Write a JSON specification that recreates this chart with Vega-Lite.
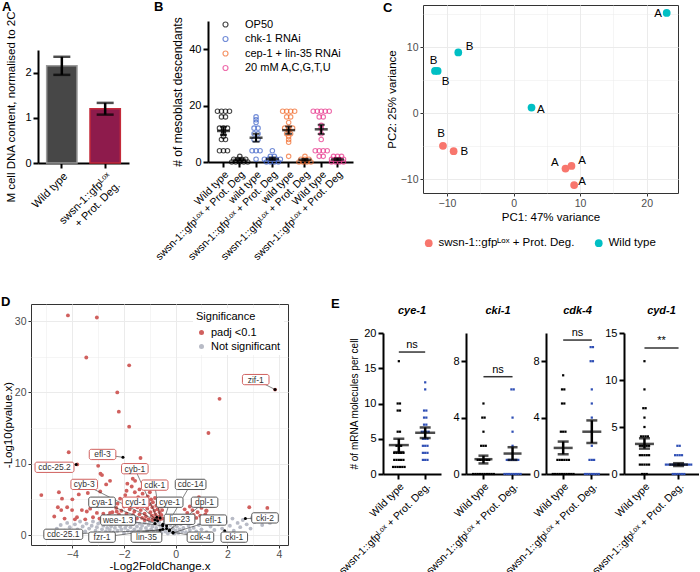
{
"$schema": "https://vega.github.io/schema/vega-lite/v6.json",
"padding": {"left": 0, "top": 0, "right": 0, "bottom": 0},
"config": {"font": "Liberation Sans", "view": {"stroke": null},
 "axis": {"labelFont": "Liberation Sans", "titleFont": "Liberation Sans", "titleFontWeight": "normal", "labelColor": "black", "titleColor": "black", "labelOverlap": false},
 "title": {"fontSize": 13, "fontWeight": "bold", "anchor": "start", "frame": "group", "font": "Liberation Sans"}},
"datasets": {
 "sp": [{}],
 "A": [{"k":"W","m":2.15,"lo":1.95,"hi":2.35},{"k":"S","m":1.2,"lo":1.07,"hi":1.33}],
 "B": [
  {"c":"1","g":"OP50","v":18},{"c":"1","g":"OP50","v":18},{"c":"1","g":"OP50","v":18},{"c":"1","g":"OP50","v":18},{"c":"1","g":"OP50","v":16},{"c":"1","g":"OP50","v":16},{"c":"1","g":"OP50","v":12},{"c":"1","g":"OP50","v":12},{"c":"1","g":"OP50","v":12},{"c":"1","g":"OP50","v":11},{"c":"1","g":"OP50","v":10},{"c":"1","g":"OP50","v":9},{"c":"1","g":"OP50","v":8},{"c":"1","g":"OP50","v":8},{"c":"1","g":"OP50","v":4},{"c":"1","g":"OP50","v":4},{"c":"1","g":"OP50","v":4},
  {"c":"2","g":"OP50","v":2},{"c":"2","g":"OP50","v":1},{"c":"2","g":"OP50","v":1},{"c":"2","g":"OP50","v":1},{"c":"2","g":"OP50","v":1},{"c":"2","g":"OP50","v":0},{"c":"2","g":"OP50","v":0},{"c":"2","g":"OP50","v":0},{"c":"2","g":"OP50","v":0},{"c":"2","g":"OP50","v":0},
  {"c":"3","g":"chk-1 RNAi","v":16},{"c":"3","g":"chk-1 RNAi","v":15},{"c":"3","g":"chk-1 RNAi","v":14},{"c":"3","g":"chk-1 RNAi","v":12},{"c":"3","g":"chk-1 RNAi","v":12},{"c":"3","g":"chk-1 RNAi","v":10},{"c":"3","g":"chk-1 RNAi","v":10},{"c":"3","g":"chk-1 RNAi","v":8},{"c":"3","g":"chk-1 RNAi","v":8},{"c":"3","g":"chk-1 RNAi","v":4},{"c":"3","g":"chk-1 RNAi","v":4},{"c":"3","g":"chk-1 RNAi","v":4},{"c":"3","g":"chk-1 RNAi","v":1},
  {"c":"4","g":"chk-1 RNAi","v":4},{"c":"4","g":"chk-1 RNAi","v":2},{"c":"4","g":"chk-1 RNAi","v":2},{"c":"4","g":"chk-1 RNAi","v":1},{"c":"4","g":"chk-1 RNAi","v":1},{"c":"4","g":"chk-1 RNAi","v":1},{"c":"4","g":"chk-1 RNAi","v":1},{"c":"4","g":"chk-1 RNAi","v":1},{"c":"4","g":"chk-1 RNAi","v":0},{"c":"4","g":"chk-1 RNAi","v":0},{"c":"4","g":"chk-1 RNAi","v":0},{"c":"4","g":"chk-1 RNAi","v":0},
  {"c":"5","g":"cep-1 + lin-35 RNAi","v":18},{"c":"5","g":"cep-1 + lin-35 RNAi","v":18},{"c":"5","g":"cep-1 + lin-35 RNAi","v":18},{"c":"5","g":"cep-1 + lin-35 RNAi","v":18},{"c":"5","g":"cep-1 + lin-35 RNAi","v":16},{"c":"5","g":"cep-1 + lin-35 RNAi","v":16},{"c":"5","g":"cep-1 + lin-35 RNAi","v":14},{"c":"5","g":"cep-1 + lin-35 RNAi","v":12},{"c":"5","g":"cep-1 + lin-35 RNAi","v":12},{"c":"5","g":"cep-1 + lin-35 RNAi","v":12},{"c":"5","g":"cep-1 + lin-35 RNAi","v":11},{"c":"5","g":"cep-1 + lin-35 RNAi","v":10},{"c":"5","g":"cep-1 + lin-35 RNAi","v":10},{"c":"5","g":"cep-1 + lin-35 RNAi","v":9},{"c":"5","g":"cep-1 + lin-35 RNAi","v":8},{"c":"5","g":"cep-1 + lin-35 RNAi","v":7},{"c":"5","g":"cep-1 + lin-35 RNAi","v":2},
  {"c":"6","g":"cep-1 + lin-35 RNAi","v":2},{"c":"6","g":"cep-1 + lin-35 RNAi","v":1},{"c":"6","g":"cep-1 + lin-35 RNAi","v":1},{"c":"6","g":"cep-1 + lin-35 RNAi","v":1},{"c":"6","g":"cep-1 + lin-35 RNAi","v":0},{"c":"6","g":"cep-1 + lin-35 RNAi","v":0},{"c":"6","g":"cep-1 + lin-35 RNAi","v":0},{"c":"6","g":"cep-1 + lin-35 RNAi","v":0},
  {"c":"7","g":"20 mM A,C,G,T,U","v":18},{"c":"7","g":"20 mM A,C,G,T,U","v":18},{"c":"7","g":"20 mM A,C,G,T,U","v":18},{"c":"7","g":"20 mM A,C,G,T,U","v":18},{"c":"7","g":"20 mM A,C,G,T,U","v":18},{"c":"7","g":"20 mM A,C,G,T,U","v":16},{"c":"7","g":"20 mM A,C,G,T,U","v":16},{"c":"7","g":"20 mM A,C,G,T,U","v":13},{"c":"7","g":"20 mM A,C,G,T,U","v":12},{"c":"7","g":"20 mM A,C,G,T,U","v":10},{"c":"7","g":"20 mM A,C,G,T,U","v":8},{"c":"7","g":"20 mM A,C,G,T,U","v":4},{"c":"7","g":"20 mM A,C,G,T,U","v":4},{"c":"7","g":"20 mM A,C,G,T,U","v":4},{"c":"7","g":"20 mM A,C,G,T,U","v":4},{"c":"7","g":"20 mM A,C,G,T,U","v":2},{"c":"7","g":"20 mM A,C,G,T,U","v":2},
  {"c":"8","g":"20 mM A,C,G,T,U","v":2},{"c":"8","g":"20 mM A,C,G,T,U","v":2},{"c":"8","g":"20 mM A,C,G,T,U","v":2},{"c":"8","g":"20 mM A,C,G,T,U","v":1},{"c":"8","g":"20 mM A,C,G,T,U","v":1},{"c":"8","g":"20 mM A,C,G,T,U","v":1},{"c":"8","g":"20 mM A,C,G,T,U","v":1},{"c":"8","g":"20 mM A,C,G,T,U","v":0},{"c":"8","g":"20 mM A,C,G,T,U","v":0},{"c":"8","g":"20 mM A,C,G,T,U","v":0},{"c":"8","g":"20 mM A,C,G,T,U","v":0}
 ],
 "Bs": [{"c":"1","m":11.0,"lo":9.6,"hi":12.5},{"c":"2","m":0.8,"lo":0.4,"hi":1.2},{"c":"3","m":8.6,"lo":7.2,"hi":10.0},{"c":"4","m":1.1,"lo":0.7,"hi":1.6},{"c":"5","m":11.3,"lo":10.0,"hi":12.6},{"c":"6","m":0.8,"lo":0.4,"hi":1.1},{"c":"7","m":11.6,"lo":9.9,"hi":13.2},{"c":"8","m":0.9,"lo":0.6,"hi":1.3}],
 "C": [
  {"x":23.0,"y":15.2,"t":"W","lx":21.7,"ly":15.0,"l":"A"},
  {"x":-8.3,"y":9.2,"t":"W","lx":-6.6,"ly":10.0,"l":"B"},
  {"x":-11.8,"y":6.4,"t":"W","lx":-12.0,"ly":7.9,"l":"B"},
  {"x":-11.4,"y":6.4,"t":"W","lx":-10.2,"ly":4.8,"l":"B"},
  {"x":2.7,"y":0.86,"t":"W","lx":4.1,"ly":0.45,"l":"A"},
  {"x":-10.6,"y":-4.95,"t":"S","lx":-10.9,"ly":-3.2,"l":"B"},
  {"x":-9.0,"y":-5.76,"t":"S","lx":-7.4,"ly":-5.9,"l":"B"},
  {"x":7.8,"y":-8.4,"t":"S","lx":6.2,"ly":-7.5,"l":"A"},
  {"x":8.7,"y":-8.0,"t":"S","lx":10.3,"ly":-7.3,"l":"A"},
  {"x":9.1,"y":-10.9,"t":"S","lx":10.3,"ly":-10.4,"l":"A"}
 ],
 "D": [
  {"x":-4.6,"y":0.9,"s":"n"},{"x":-4.45,"y":1.4,"s":"n"},{"x":-4.3,"y":0.6,"s":"n"},{"x":-4.2,"y":1.7,"s":"n"},{"x":-4.1,"y":1.1,"s":"n"},{"x":-4.0,"y":0.4,"s":"n"},{"x":-3.9,"y":1.5,"s":"n"},{"x":-3.8,"y":0.8,"s":"n"},{"x":-3.7,"y":1.9,"s":"n"},{"x":-3.6,"y":1.2,"s":"n"},{"x":-3.5,"y":0.5,"s":"n"},{"x":-3.45,"y":1.6,"s":"n"},{"x":-3.35,"y":0.9,"s":"n"},{"x":-3.25,"y":1.3,"s":"n"},{"x":-3.2,"y":1.9,"s":"n"},{"x":-3.1,"y":0.6,"s":"n"},{"x":-3.05,"y":1.1,"s":"n"},{"x":-3.0,"y":1.6,"s":"n"},{"x":-2.95,"y":0.3,"s":"n"},{"x":-2.9,"y":1.9,"s":"n"},{"x":-2.85,"y":0.8,"s":"n"},{"x":-2.8,"y":1.3,"s":"n"},{"x":-2.75,"y":2.0,"s":"n"},{"x":-2.7,"y":0.5,"s":"n"},{"x":-2.65,"y":1.0,"s":"n"},{"x":-2.6,"y":1.6,"s":"n"},{"x":-2.55,"y":0.7,"s":"n"},{"x":-2.5,"y":1.2,"s":"n"},{"x":-2.45,"y":1.8,"s":"n"},{"x":-2.4,"y":0.4,"s":"n"},{"x":-2.35,"y":1.0,"s":"n"},{"x":-2.3,"y":1.5,"s":"n"},{"x":-2.25,"y":0.6,"s":"n"},{"x":-2.2,"y":1.9,"s":"n"},{"x":-2.15,"y":1.2,"s":"n"},{"x":-2.1,"y":0.8,"s":"n"},{"x":-2.05,"y":1.6,"s":"n"},{"x":-2.0,"y":0.3,"s":"n"},{"x":-1.95,"y":1.0,"s":"n"},{"x":-1.9,"y":1.4,"s":"n"},{"x":-1.85,"y":0.6,"s":"n"},{"x":-1.8,"y":1.9,"s":"n"},{"x":-1.75,"y":1.1,"s":"n"},{"x":-1.7,"y":0.4,"s":"n"},{"x":-1.65,"y":1.5,"s":"n"},{"x":-1.6,"y":0.8,"s":"n"},{"x":-1.55,"y":1.8,"s":"n"},{"x":-1.5,"y":1.2,"s":"n"},{"x":-1.45,"y":0.5,"s":"n"},{"x":-1.4,"y":1.6,"s":"n"},{"x":-1.35,"y":0.9,"s":"n"},{"x":-1.3,"y":1.3,"s":"n"},{"x":-1.25,"y":0.3,"s":"n"},{"x":-1.2,"y":1.7,"s":"n"},{"x":-1.15,"y":1.0,"s":"n"},{"x":-1.1,"y":0.6,"s":"n"},{"x":-1.05,"y":1.4,"s":"n"},{"x":-1.0,"y":1.9,"s":"n"},{"x":-0.95,"y":0.8,"s":"n"},{"x":-0.9,"y":1.2,"s":"n"},{"x":-0.85,"y":0.4,"s":"n"},{"x":-0.8,"y":1.6,"s":"n"},{"x":-0.75,"y":1.0,"s":"n"},{"x":-0.7,"y":0.6,"s":"n"},{"x":-0.65,"y":1.8,"s":"n"},{"x":-0.6,"y":1.3,"s":"n"},{"x":-0.55,"y":0.3,"s":"n"},{"x":-0.5,"y":0.9,"s":"n"},{"x":-0.45,"y":1.5,"s":"n"},{"x":-0.4,"y":0.5,"s":"n"},{"x":-0.35,"y":1.1,"s":"n"},{"x":-0.3,"y":0.2,"s":"n"},{"x":-0.25,"y":0.8,"s":"n"},{"x":-0.2,"y":1.4,"s":"n"},{"x":-0.15,"y":0.4,"s":"n"},{"x":-0.1,"y":0.9,"s":"n"},{"x":-0.05,"y":0.2,"s":"n"},{"x":0.0,"y":0.6,"s":"n"},{"x":0.05,"y":1.2,"s":"n"},{"x":0.1,"y":0.3,"s":"n"},{"x":0.15,"y":0.8,"s":"n"},{"x":0.2,"y":1.5,"s":"n"},{"x":0.25,"y":0.5,"s":"n"},{"x":0.3,"y":1.0,"s":"n"},{"x":0.35,"y":1.8,"s":"n"},{"x":0.4,"y":0.4,"s":"n"},{"x":0.5,"y":1.3,"s":"n"},{"x":0.55,"y":0.7,"s":"n"},{"x":0.6,"y":1.7,"s":"n"},{"x":0.7,"y":1.0,"s":"n"},{"x":0.8,"y":0.5,"s":"n"},{"x":0.9,"y":1.4,"s":"n"},{"x":1.0,"y":0.8,"s":"n"},{"x":1.1,"y":1.8,"s":"n"},{"x":1.2,"y":0.4,"s":"n"},{"x":1.35,"y":1.2,"s":"n"},{"x":1.5,"y":0.7,"s":"n"},{"x":1.65,"y":1.5,"s":"n"},{"x":1.8,"y":0.9,"s":"n"},{"x":1.95,"y":1.9,"s":"n"},{"x":2.1,"y":1.3,"s":"n"},{"x":2.25,"y":0.6,"s":"n"},{"x":2.4,"y":1.7,"s":"n"},{"x":2.5,"y":1.1,"s":"n"},{"x":2.6,"y":2.1,"s":"n"},{"x":2.75,"y":1.5,"s":"n"},{"x":2.9,"y":0.9,"s":"n"},{"x":3.05,"y":1.8,"s":"n"},{"x":3.2,"y":2.2,"s":"n"},{"x":3.35,"y":1.4,"s":"n"},{"x":3.5,"y":2.0,"s":"n"},{"x":3.65,"y":1.7,"s":"n"},{"x":2.2,"y":2.3,"s":"n"},{"x":1.7,"y":2.2,"s":"n"},{"x":2.95,"y":2.4,"s":"n"},
  {"x":-4.17,"y":30.8,"s":"r"},{"x":-3.05,"y":30.5,"s":"r"},{"x":-3.46,"y":24.9,"s":"r"},{"x":-1.8,"y":23.8,"s":"r"},{"x":-2.26,"y":20.0,"s":"r"},{"x":-2.2,"y":17.3,"s":"r"},{"x":-1.8,"y":15.2,"s":"r"},{"x":1.7,"y":19.1,"s":"r"},{"x":1.27,"y":14.3,"s":"r"},{"x":3.85,"y":20.4,"s":"r"},{"x":-4.14,"y":11.6,"s":"r"},{"x":-3.81,"y":9.9,"s":"r"},{"x":-3.0,"y":9.7,"s":"r"},{"x":-2.91,"y":8.6,"s":"r"},{"x":-2.85,"y":8.4,"s":"r"},{"x":-1.36,"y":10.8,"s":"r"},{"x":-1.38,"y":9.8,"s":"r"},{"x":-2.54,"y":7.6,"s":"r"},{"x":-2.69,"y":7.1,"s":"r"},{"x":-5.2,"y":5.6,"s":"r"},{"x":-4.52,"y":6.0,"s":"r"},{"x":-4.4,"y":5.1,"s":"r"},{"x":-4.0,"y":5.0,"s":"r"},{"x":-3.75,"y":5.7,"s":"r"},{"x":-3.4,"y":5.9,"s":"r"},{"x":-2.92,"y":6.1,"s":"r"},{"x":-1.87,"y":7.2,"s":"r"},{"x":-1.66,"y":7.9,"s":"r"},{"x":-1.57,"y":7.6,"s":"r"},{"x":-1.7,"y":6.8,"s":"r"},{"x":-4.56,"y":3.9,"s":"r"},{"x":-4.43,"y":3.5,"s":"r"},{"x":-4.2,"y":3.9,"s":"r"},{"x":-4.01,"y":3.5,"s":"r"},{"x":-3.82,"y":2.5,"s":"r"},{"x":-3.63,"y":3.5,"s":"r"},{"x":-3.44,"y":3.3,"s":"r"},{"x":-3.31,"y":3.7,"s":"r"},{"x":-3.05,"y":3.1,"s":"r"},{"x":-2.54,"y":3.1,"s":"r"},{"x":-2.28,"y":3.3,"s":"r"},{"x":2.85,"y":3.9,"s":"r"},{"x":3.55,"y":3.8,"s":"r"},{"x":0.79,"y":5.1,"s":"r"},{"x":1.18,"y":3.4,"s":"r"},
  {"x":-2.35,"y":2.6,"s":"r"},{"x":-2.3,"y":3.8,"s":"r"},{"x":-2.25,"y":4.4,"s":"r"},{"x":-2.2,"y":2.9,"s":"r"},{"x":-2.15,"y":5.1,"s":"r"},{"x":-2.1,"y":3.4,"s":"r"},{"x":-2.05,"y":2.4,"s":"r"},{"x":-2.0,"y":4.0,"s":"r"},{"x":-1.95,"y":5.6,"s":"r"},{"x":-1.9,"y":3.0,"s":"r"},{"x":-1.85,"y":4.6,"s":"r"},{"x":-1.8,"y":2.5,"s":"r"},{"x":-1.78,"y":3.6,"s":"r"},{"x":-1.72,"y":5.0,"s":"r"},{"x":-1.7,"y":4.2,"s":"r"},{"x":-1.65,"y":2.8,"s":"r"},{"x":-1.6,"y":3.3,"s":"r"},{"x":-1.58,"y":6.0,"s":"r"},{"x":-1.55,"y":4.8,"s":"r"},{"x":-1.5,"y":2.3,"s":"r"},{"x":-1.48,"y":3.9,"s":"r"},{"x":-1.45,"y":5.3,"s":"r"},{"x":-1.4,"y":2.9,"s":"r"},{"x":-1.38,"y":4.5,"s":"r"},{"x":-1.35,"y":3.5,"s":"r"},{"x":-1.3,"y":2.4,"s":"r"},{"x":-1.28,"y":5.8,"s":"r"},{"x":-1.25,"y":4.1,"s":"r"},{"x":-1.2,"y":3.0,"s":"r"},{"x":-1.18,"y":4.9,"s":"r"},{"x":-1.15,"y":2.6,"s":"r"},{"x":-1.1,"y":3.7,"s":"r"},{"x":-1.08,"y":5.4,"s":"r"},{"x":-1.05,"y":2.2,"s":"r"},{"x":-1.0,"y":4.3,"s":"r"},{"x":-0.98,"y":3.2,"s":"r"},{"x":-0.95,"y":5.0,"s":"r"},{"x":-0.92,"y":2.7,"s":"r"},{"x":-0.9,"y":3.9,"s":"r"},{"x":-0.88,"y":4.6,"s":"r"},{"x":-0.85,"y":2.4,"s":"r"},{"x":-0.82,"y":3.4,"s":"r"},{"x":-0.8,"y":5.2,"s":"r"},{"x":-0.78,"y":2.9,"s":"r"},{"x":-0.75,"y":4.1,"s":"r"},{"x":-0.72,"y":2.3,"s":"r"},{"x":-0.7,"y":3.6,"s":"r"},{"x":-0.68,"y":4.8,"s":"r"},{"x":-0.65,"y":2.6,"s":"r"},{"x":-0.62,"y":3.2,"s":"r"},{"x":-0.6,"y":2.2,"s":"r"},{"x":-0.58,"y":4.0,"s":"r"},{"x":-0.55,"y":2.8,"s":"r"},{"x":-0.52,"y":3.5,"s":"r"},{"x":-0.5,"y":2.3,"s":"r"},{"x":-2.45,"y":3.2,"s":"r"},{"x":-2.4,"y":2.2,"s":"r"},{"x":-2.6,"y":2.7,"s":"r"},{"x":-2.7,"y":2.3,"s":"r"},{"x":-2.0,"y":2.1,"s":"r"},{"x":-1.6,"y":2.1,"s":"r"},{"x":-1.2,"y":2.1,"s":"r"},{"x":-0.9,"y":2.1,"s":"r"},{"x":-1.9,"y":6.2,"s":"r"},{"x":-1.4,"y":6.4,"s":"r"},{"x":-1.15,"y":6.7,"s":"r"},{"x":-1.0,"y":6.0,"s":"r"},
  {"x":0.4,"y":2.3,"s":"r"},{"x":0.45,"y":3.1,"s":"r"},{"x":0.5,"y":2.6,"s":"r"},{"x":0.55,"y":4.0,"s":"r"},{"x":0.6,"y":2.2,"s":"r"},{"x":0.65,"y":3.5,"s":"r"},{"x":0.7,"y":2.8,"s":"r"},{"x":0.75,"y":4.6,"s":"r"},{"x":0.8,"y":2.4,"s":"r"},{"x":0.85,"y":3.2,"s":"r"},{"x":0.9,"y":5.3,"s":"r"},{"x":0.95,"y":2.7,"s":"r"},{"x":1.0,"y":3.8,"s":"r"},{"x":1.05,"y":2.3,"s":"r"},{"x":1.1,"y":4.4,"s":"r"},{"x":1.15,"y":2.9,"s":"r"},{"x":1.2,"y":3.4,"s":"r"},{"x":1.3,"y":2.5,"s":"r"},{"x":1.35,"y":4.1,"s":"r"},{"x":1.45,"y":2.6,"s":"r"},{"x":0.3,"y":2.5,"s":"r"},{"x":0.35,"y":3.6,"s":"r"},{"x":1.6,"y":2.2,"s":"r"},{"x":0.25,"y":2.2,"s":"r"},
  {"x":-4.7,"y":2.6,"s":"r"},{"x":-4.3,"y":2.3,"s":"r"},{"x":-3.9,"y":2.2,"s":"r"},{"x":-3.5,"y":2.2,"s":"r"},{"x":-3.2,"y":2.5,"s":"r"},{"x":-2.95,"y":2.3,"s":"r"},{"x":-2.8,"y":3.0,"s":"r"},{"x":-2.5,"y":2.2,"s":"r"}
 ],
 "DL": [
  {"g":"efl-3","px":-2.04,"py":10.9,"lx":-2.83,"ly":11.3,"s":"r"},
  {"g":"cdc-25.2","px":-3.85,"py":9.9,"lx":-4.69,"ly":9.5,"s":"r"},
  {"g":"cyb-1","px":-0.73,"py":2.5,"lx":-1.58,"ly":9.3,"s":"r"},
  {"g":"cyb-3","px":-0.8,"py":2.1,"lx":-3.54,"ly":7.1,"s":"r"},
  {"g":"cdk-1","px":-0.6,"py":2.4,"lx":-0.81,"ly":7.0,"s":"r"},
  {"g":"cdc-14","px":-0.35,"py":1.3,"lx":0.58,"ly":7.1,"s":"n"},
  {"g":"cya-1","px":-0.8,"py":1.6,"lx":-2.85,"ly":4.6,"s":"n"},
  {"g":"cyd-1","px":-0.7,"py":2.0,"lx":-1.55,"ly":4.6,"s":"r"},
  {"g":"cye-1","px":-0.5,"py":1.5,"lx":-0.23,"ly":4.6,"s":"n"},
  {"g":"dpl-1","px":-0.23,"py":0.7,"lx":1.12,"ly":4.6,"s":"n"},
  {"g":"wee-1.3","px":-0.5,"py":1.3,"lx":-2.23,"ly":2.1,"s":"n"},
  {"g":"lin-23","px":-0.25,"py":0.6,"lx":0.15,"ly":2.2,"s":"n"},
  {"g":"efl-1","px":-0.1,"py":0.3,"lx":1.46,"ly":2.1,"s":"n"},
  {"g":"cdc-25.1","px":-0.6,"py":0.7,"lx":-4.35,"ly":0.1,"s":"n"},
  {"g":"fzr-1","px":-0.5,"py":0.8,"lx":-2.85,"ly":-0.3,"s":"n"},
  {"g":"lin-35","px":-0.35,"py":0.9,"lx":-1.13,"ly":-0.3,"s":"n"},
  {"g":"cdk-4","px":-0.1,"py":0.4,"lx":0.96,"ly":-0.3,"s":"n"},
  {"g":"cki-1","px":1.9,"py":0.6,"lx":2.27,"ly":-0.3,"s":"n"},
  {"g":"cki-2","px":2.7,"py":2.3,"lx":3.46,"ly":2.4,"s":"n"},
  {"g":"zif-1","px":3.85,"py":20.4,"lx":3.1,"ly":21.8,"s":"r"}
 ],
 "E": [
  {"p":"cye-1","c":"W","v":16},{"p":"cye-1","c":"W","v":10},{"p":"cye-1","c":"W","v":10},{"p":"cye-1","c":"W","v":9},{"p":"cye-1","c":"W","v":9},{"p":"cye-1","c":"W","v":6},{"p":"cye-1","c":"W","v":6},{"p":"cye-1","c":"W","v":4},{"p":"cye-1","c":"W","v":4},{"p":"cye-1","c":"W","v":4},{"p":"cye-1","c":"W","v":3},{"p":"cye-1","c":"W","v":3},{"p":"cye-1","c":"W","v":3},{"p":"cye-1","c":"W","v":3},{"p":"cye-1","c":"W","v":3},{"p":"cye-1","c":"W","v":2},{"p":"cye-1","c":"W","v":2},{"p":"cye-1","c":"W","v":2},{"p":"cye-1","c":"W","v":2},{"p":"cye-1","c":"W","v":2},{"p":"cye-1","c":"W","v":1},{"p":"cye-1","c":"W","v":1},{"p":"cye-1","c":"W","v":1},{"p":"cye-1","c":"W","v":1},{"p":"cye-1","c":"W","v":1},{"p":"cye-1","c":"W","v":1},
  {"p":"cye-1","c":"S","v":13},{"p":"cye-1","c":"S","v":12},{"p":"cye-1","c":"S","v":9},{"p":"cye-1","c":"S","v":9},{"p":"cye-1","c":"S","v":8},{"p":"cye-1","c":"S","v":8},{"p":"cye-1","c":"S","v":7},{"p":"cye-1","c":"S","v":7},{"p":"cye-1","c":"S","v":6},{"p":"cye-1","c":"S","v":6},{"p":"cye-1","c":"S","v":6},{"p":"cye-1","c":"S","v":6},{"p":"cye-1","c":"S","v":5},{"p":"cye-1","c":"S","v":5},{"p":"cye-1","c":"S","v":5},{"p":"cye-1","c":"S","v":4},{"p":"cye-1","c":"S","v":4},{"p":"cye-1","c":"S","v":4},{"p":"cye-1","c":"S","v":3},{"p":"cye-1","c":"S","v":3},{"p":"cye-1","c":"S","v":3},{"p":"cye-1","c":"S","v":2},{"p":"cye-1","c":"S","v":2},{"p":"cye-1","c":"S","v":2},
  {"p":"cki-1","c":"W","v":5},{"p":"cki-1","c":"W","v":4},{"p":"cki-1","c":"W","v":4},{"p":"cki-1","c":"W","v":3},{"p":"cki-1","c":"W","v":2},{"p":"cki-1","c":"W","v":2},{"p":"cki-1","c":"W","v":2},{"p":"cki-1","c":"W","v":1},{"p":"cki-1","c":"W","v":1},{"p":"cki-1","c":"W","v":1},{"p":"cki-1","c":"W","v":1},{"p":"cki-1","c":"W","v":1},{"p":"cki-1","c":"W","v":1},{"p":"cki-1","c":"W","v":0},{"p":"cki-1","c":"W","v":0},{"p":"cki-1","c":"W","v":0},{"p":"cki-1","c":"W","v":0},{"p":"cki-1","c":"W","v":0},{"p":"cki-1","c":"W","v":0},{"p":"cki-1","c":"W","v":0},{"p":"cki-1","c":"W","v":0},{"p":"cki-1","c":"W","v":0},{"p":"cki-1","c":"W","v":0},
  {"p":"cki-1","c":"S","v":6},{"p":"cki-1","c":"S","v":6},{"p":"cki-1","c":"S","v":4},{"p":"cki-1","c":"S","v":3},{"p":"cki-1","c":"S","v":2},{"p":"cki-1","c":"S","v":1},{"p":"cki-1","c":"S","v":1},{"p":"cki-1","c":"S","v":1},{"p":"cki-1","c":"S","v":1},{"p":"cki-1","c":"S","v":1},{"p":"cki-1","c":"S","v":1},{"p":"cki-1","c":"S","v":0},{"p":"cki-1","c":"S","v":0},{"p":"cki-1","c":"S","v":0},{"p":"cki-1","c":"S","v":0},{"p":"cki-1","c":"S","v":0},{"p":"cki-1","c":"S","v":0},{"p":"cki-1","c":"S","v":0},{"p":"cki-1","c":"S","v":0},
  {"p":"cdk-4","c":"W","v":7},{"p":"cdk-4","c":"W","v":6},{"p":"cdk-4","c":"W","v":6},{"p":"cdk-4","c":"W","v":5},{"p":"cdk-4","c":"W","v":5},{"p":"cdk-4","c":"W","v":3},{"p":"cdk-4","c":"W","v":3},{"p":"cdk-4","c":"W","v":3},{"p":"cdk-4","c":"W","v":1},{"p":"cdk-4","c":"W","v":1},{"p":"cdk-4","c":"W","v":1},{"p":"cdk-4","c":"W","v":1},{"p":"cdk-4","c":"W","v":1},{"p":"cdk-4","c":"W","v":1},{"p":"cdk-4","c":"W","v":0},{"p":"cdk-4","c":"W","v":0},{"p":"cdk-4","c":"W","v":0},{"p":"cdk-4","c":"W","v":0},{"p":"cdk-4","c":"W","v":0},{"p":"cdk-4","c":"W","v":0},{"p":"cdk-4","c":"W","v":0},{"p":"cdk-4","c":"W","v":0},{"p":"cdk-4","c":"W","v":0},{"p":"cdk-4","c":"W","v":0},
  {"p":"cdk-4","c":"S","v":9},{"p":"cdk-4","c":"S","v":9},{"p":"cdk-4","c":"S","v":8},{"p":"cdk-4","c":"S","v":8},{"p":"cdk-4","c":"S","v":6},{"p":"cdk-4","c":"S","v":5},{"p":"cdk-4","c":"S","v":4},{"p":"cdk-4","c":"S","v":3},{"p":"cdk-4","c":"S","v":2},{"p":"cdk-4","c":"S","v":1},{"p":"cdk-4","c":"S","v":1},{"p":"cdk-4","c":"S","v":1},{"p":"cdk-4","c":"S","v":0},{"p":"cdk-4","c":"S","v":0},{"p":"cdk-4","c":"S","v":0},{"p":"cdk-4","c":"S","v":0},{"p":"cdk-4","c":"S","v":0},{"p":"cdk-4","c":"S","v":0},{"p":"cdk-4","c":"S","v":0},
  {"p":"cyd-1","c":"W","v":12},{"p":"cyd-1","c":"W","v":9},{"p":"cyd-1","c":"W","v":7},{"p":"cyd-1","c":"W","v":7},{"p":"cyd-1","c":"W","v":6},{"p":"cyd-1","c":"W","v":5},{"p":"cyd-1","c":"W","v":4},{"p":"cyd-1","c":"W","v":4},{"p":"cyd-1","c":"W","v":4},{"p":"cyd-1","c":"W","v":4},{"p":"cyd-1","c":"W","v":3},{"p":"cyd-1","c":"W","v":3},{"p":"cyd-1","c":"W","v":3},{"p":"cyd-1","c":"W","v":3},{"p":"cyd-1","c":"W","v":3},{"p":"cyd-1","c":"W","v":2},{"p":"cyd-1","c":"W","v":2},{"p":"cyd-1","c":"W","v":2},{"p":"cyd-1","c":"W","v":2},{"p":"cyd-1","c":"W","v":2},{"p":"cyd-1","c":"W","v":1},{"p":"cyd-1","c":"W","v":1},{"p":"cyd-1","c":"W","v":1},{"p":"cyd-1","c":"W","v":1},{"p":"cyd-1","c":"W","v":1},{"p":"cyd-1","c":"W","v":0},{"p":"cyd-1","c":"W","v":0},{"p":"cyd-1","c":"W","v":0},
  {"p":"cyd-1","c":"S","v":3},{"p":"cyd-1","c":"S","v":3},{"p":"cyd-1","c":"S","v":2},{"p":"cyd-1","c":"S","v":2},{"p":"cyd-1","c":"S","v":2},{"p":"cyd-1","c":"S","v":2},{"p":"cyd-1","c":"S","v":1},{"p":"cyd-1","c":"S","v":1},{"p":"cyd-1","c":"S","v":1},{"p":"cyd-1","c":"S","v":1},{"p":"cyd-1","c":"S","v":1},{"p":"cyd-1","c":"S","v":1},{"p":"cyd-1","c":"S","v":1},{"p":"cyd-1","c":"S","v":1},{"p":"cyd-1","c":"S","v":1},{"p":"cyd-1","c":"S","v":1},{"p":"cyd-1","c":"S","v":1},{"p":"cyd-1","c":"S","v":1},{"p":"cyd-1","c":"S","v":0},{"p":"cyd-1","c":"S","v":0},{"p":"cyd-1","c":"S","v":0},{"p":"cyd-1","c":"S","v":0},{"p":"cyd-1","c":"S","v":0},{"p":"cyd-1","c":"S","v":0}
 ],
 "Es": [
  {"p":"cye-1","c":"W","m":4.1,"lo":3.1,"hi":5.0},{"p":"cye-1","c":"S","m":5.85,"lo":5.1,"hi":6.6},
  {"p":"cki-1","c":"W","m":1.05,"lo":0.75,"hi":1.3},{"p":"cki-1","c":"S","m":1.45,"lo":1.0,"hi":1.9},
  {"p":"cdk-4","c":"W","m":1.85,"lo":1.4,"hi":2.3},{"p":"cdk-4","c":"S","m":3.0,"lo":2.2,"hi":3.8},
  {"p":"cyd-1","c":"W","m":3.2,"lo":2.7,"hi":3.8},{"p":"cyd-1","c":"S","m":1.0,"lo":0.85,"hi":1.15}
 ],
 "Eg": [{"p":"cye-1","y":17.3,"t":"ns"},{"p":"cki-1","y":6.9,"t":"ns"},{"p":"cdk-4","y":9.5,"t":"ns"},{"p":"cyd-1","y":13.4,"t":"**"}]
},
"spacing": 32, "align": "none",
"resolve": {"scale": {"color": "independent", "fill": "independent", "stroke": "independent", "xOffset": "independent"}, "legend": {"color": "independent", "fill": "independent", "stroke": "independent"}},
"vconcat": [
 {"spacing": 0, "align": "none", "bounds": "flush",
  "resolve": {"scale": {"color": "independent", "fill": "independent", "stroke": "independent", "xOffset": "independent"}, "legend": {"color": "independent", "fill": "independent", "stroke": "independent"}},
  "hconcat": [
  {"width": 7, "height": 1, "data": {"name": "sp"}, "mark": {"type": "point", "opacity": 0}, "encoding": {}},
  {"width": 91, "height": 158,
   "title": {"text": "A", "offset": -9, "dx": -36},
   "data": {"name": "A"},
   "encoding": {"x": {"field": "k", "type": "nominal", "sort": ["W", "S"], "scale": {"paddingInner": 0.3, "paddingOuter": 0.2},
     "axis": {"title": null, "labelAngle": -45, "labelFontSize": 11, "labelExpr": "datum.value == 'W' ? 'Wild type' : ['swsn-1::gfpᴸᵒˣ', '+ Prot. Deg.']", "domainColor": "black", "domainWidth": 2, "tickColor": "black", "tickWidth": 2, "tickSize": 5, "labelPadding": 2}}},
   "layer": [
    {"mark": {"type": "bar", "strokeWidth": 1.5},
     "encoding": {"y": {"field": "m", "type": "quantitative", "title": "M cell DNA content, normalised to 2C", "scale": {"domain": [0, 2.5], "nice": false, "range": [158, 45]},
       "axis": {"values": [0, 1, 2], "format": ".0f", "grid": false, "domainColor": "black", "domainWidth": 2, "tickColor": "black", "tickWidth": 2, "tickSize": 5, "labelFontSize": 11, "titleFontSize": 11.5, "titlePadding": 8}},
      "fill": {"field": "k", "type": "nominal", "scale": {"domain": ["W", "S"], "range": ["#474747", "#8E1B4C"]}, "legend": null},
      "stroke": {"field": "k", "type": "nominal", "scale": {"domain": ["W", "S"], "range": ["#9a9a9a", "#C42A3A"]}, "legend": null}}},
    {"mark": {"type": "errorbar", "ticks": true, "size": 17, "thickness": 2.5, "color": "black"},
     "encoding": {"y": {"field": "lo", "type": "quantitative", "title": "M cell DNA content, normalised to 2C"}, "y2": {"field": "hi"}}}
   ]},
  {"width": 79, "height": 1, "data": {"name": "sp"}, "mark": {"type": "point", "opacity": 0}, "encoding": {}},
  {"width": 145, "height": 157,
   "title": {"text": "B", "offset": -8.5, "dx": -54},
   "encoding": {"x": {"field": "c", "type": "nominal", "scale": {"paddingInner": 0, "paddingOuter": 0.45},
     "axis": {"title": null, "labelAngle": -45, "labelFontSize": 10.5, "labelExpr": "['Wild type','swsn-1::gfpᴸᵒˣ + Prot. Deg','wild type','swsn-1::gfpᴸᵒˣ + Prot. Deg','wild type','swsn-1::gfpᴸᵒˣ + Prot. Deg','Wild type','swsn-1::gfpᴸᵒˣ + Prot. Deg'][toNumber(datum.value)-1]", "domainColor": "black", "domainWidth": 2, "tickColor": "black", "tickWidth": 2, "tickSize": 5, "labelPadding": 2}}},
   "layer": [
    {"data": {"name": "B"},
     "transform": [{"window": [{"op": "row_number", "as": "r"}, {"op": "count", "as": "n"}], "groupby": ["c", "v"], "frame": [null, null]}, {"calculate": "datum.r - (datum.n + 1) / 2", "as": "o"}],
     "mark": {"type": "point", "shape": "circle", "filled": false, "size": 20, "strokeWidth": 1.1},
     "encoding": {"y": {"field": "v", "type": "quantitative", "title": "# of mesoblast descendants", "scale": {"domain": [0, 50], "nice": false, "range": [157, 16]},
       "axis": {"values": [0, 10, 20, 30, 40, 50], "grid": false, "domainColor": "black", "domainWidth": 2, "tickColor": "black", "tickWidth": 2, "tickSize": 5, "labelFontSize": 11, "titleFontSize": 12, "titlePadding": 4}},
      "xOffset": {"field": "o", "type": "quantitative", "scale": {"domain": [-5, 5], "range": [-11.85, 28.15]}},
      "color": {"field": "g", "type": "nominal", "scale": {"domain": ["OP50", "chk-1 RNAi", "cep-1 + lin-35 RNAi", "20 mM A,C,G,T,U"], "range": ["black", "#3A5FC8", "#F26A2A", "#E8318A"]},
       "legend": {"title": null, "orient": "none", "legendX": 12, "legendY": 14, "labelFontSize": 11, "symbolSize": 25, "symbolStrokeWidth": 1.2, "rowPadding": 2.5, "symbolType": "circle", "labelOffset": 14}}}},
    {"data": {"name": "Bs"}, "mark": {"type": "tick", "color": "black", "thickness": 2.5, "size": 13},
     "encoding": {"y": {"field": "m", "type": "quantitative", "title": "# of mesoblast descendants"}}},
    {"data": {"name": "Bs"}, "mark": {"type": "errorbar", "ticks": true, "size": 7, "thickness": 2, "color": "black"},
     "encoding": {"y": {"field": "lo", "type": "quantitative", "title": "# of mesoblast descendants"}, "y2": {"field": "hi"}}}
   ]},
  {"width": 70, "height": 1, "data": {"name": "sp"}, "mark": {"type": "point", "opacity": 0}, "encoding": {}},
  {"width": 255, "height": 188,
   "title": {"text": "C", "offset": -10, "dx": -40},
   "data": {"name": "C"},
   "view": {"stroke": "#333333", "strokeWidth": 1},
   "encoding": {
    "x": {"field": "x", "type": "quantitative", "scale": {"domain": [-13.6, 24.7], "nice": false, "zero": false},
     "axis": {"title": "PC1: 47%  variance", "values": [-10, -5, 0, 5, 10, 15, 20], "labelExpr": "datum.value % 10 == 0 ? datum.label : ''", "tickOpacity": {"condition": {"test": "datum.value % 10 != 0", "value": 0}, "value": 1}, "gridWidth": {"condition": {"test": "datum.value % 10 != 0", "value": 0.5}, "value": 1}, "gridColor": "#ebebeb", "domain": false, "tickColor": "#333333", "tickSize": 3, "labelColor": "#4d4d4d", "labelFontSize": 10.5, "titleFontSize": 11.5, "labelPadding": 2, "titlePadding": 3}},
    "y": {"field": "y", "type": "quantitative", "scale": {"domain": [-12.1, 16.4], "nice": false, "zero": false},
     "axis": {"title": "PC2: 25%  variance", "values": [-10, -5, 0, 5, 10, 15], "labelExpr": "datum.value % 10 == 0 ? datum.label : ''", "tickOpacity": {"condition": {"test": "datum.value % 10 != 0", "value": 0}, "value": 1}, "gridWidth": {"condition": {"test": "datum.value % 10 != 0", "value": 0.5}, "value": 1}, "gridColor": "#ebebeb", "domain": false, "tickColor": "#333333", "tickSize": 3, "labelColor": "#4d4d4d", "labelFontSize": 10.5, "titleFontSize": 11.5, "labelPadding": 2, "titlePadding": 3}}},
   "layer": [
    {"mark": {"type": "circle", "size": 60, "opacity": 1},
     "encoding": {"color": {"field": "t", "type": "nominal", "scale": {"domain": ["S", "W"], "range": ["#F8766D", "#00BFC4"]},
       "legend": {"title": null, "orient": "bottom", "direction": "horizontal", "labelFontSize": 11.5, "symbolSize": 60, "columnPadding": 18, "offset": 14, "labelExpr": "datum.value == 'S' ? 'swsn-1::gfpᴸᵒˣ + Prot. Deg.' : 'Wild type'"}}}},
    {"mark": {"type": "text", "fontSize": 11.5, "color": "black"},
     "encoding": {"x": {"field": "lx", "type": "quantitative"}, "y": {"field": "ly", "type": "quantitative"}, "text": {"field": "l"}}}
   ]}
 ]},
 {"spacing": 0, "align": "none", "bounds": "flush",
  "resolve": {"scale": {"color": "independent", "fill": "independent", "stroke": "independent", "xOffset": "independent"}, "legend": {"color": "independent", "fill": "independent", "stroke": "independent"}},
  "hconcat": [
  {"width": 257, "height": 241,
   "title": {"text": "D", "offset": -4.5, "dx": -30},
   "view": {"stroke": "#333333", "strokeWidth": 1},
   "encoding": {
    "x": {"field": "x", "type": "quantitative", "scale": {"domain": [-5.6, 4.35], "nice": false, "zero": false},
     "axis": {"title": "-Log2FoldChange.x", "values": [-5, -4, -3, -2, -1, 0, 1, 2, 3, 4], "labelExpr": "datum.value % 2 == 0 ? datum.label : ''", "tickOpacity": {"condition": {"test": "datum.value % 2 != 0", "value": 0}, "value": 1}, "gridWidth": {"condition": {"test": "datum.value % 2 != 0", "value": 0.5}, "value": 1}, "gridColor": "#ebebeb", "domain": false, "tickColor": "#333333", "tickSize": 3, "labelColor": "#4d4d4d", "labelFontSize": 10.5, "titleFontSize": 11.5, "labelPadding": 1, "titlePadding": 1}},
    "y": {"field": "y", "type": "quantitative", "scale": {"domain": [-1.4, 32.4], "nice": false, "zero": false},
     "axis": {"title": "-Log10(pvalue.x)", "values": [0, 5, 10, 15, 20, 25, 30], "labelExpr": "datum.value % 10 == 0 ? datum.label : ''", "tickOpacity": {"condition": {"test": "datum.value % 10 != 0", "value": 0}, "value": 1}, "gridWidth": {"condition": {"test": "datum.value % 10 != 0", "value": 0.5}, "value": 1}, "gridColor": "#ebebeb", "domain": false, "tickColor": "#333333", "tickSize": 3, "labelColor": "#4d4d4d", "labelFontSize": 10.5, "titleFontSize": 11.5, "labelPadding": 2, "titlePadding": 1}}},
   "layer": [
    {"data": {"name": "D"}, "mark": {"type": "circle", "size": 15, "opacity": 1},
     "encoding": {"color": {"field": "s", "type": "nominal", "scale": {"domain": ["r", "n"], "range": ["#D0605E", "#B8BBC6"]},
       "legend": {"title": "Significance", "orient": "top-right", "offset": 4, "labelExpr": "datum.value == 'r' ? 'padj <0.1' : 'Not significant'", "titleFontWeight": "normal", "titleFontSize": 11, "labelFontSize": 11, "symbolSize": 25, "fillColor": "white", "padding": 3}}}},
    {"data": {"name": "DL"}, "mark": {"type": "rule", "color": "#333333", "strokeWidth": 0.6},
     "encoding": {"x": {"field": "px", "type": "quantitative"}, "y": {"field": "py", "type": "quantitative"}, "x2": {"field": "lx"}, "y2": {"field": "ly"}}},
    {"data": {"name": "DL"}, "mark": {"type": "circle", "size": 9, "color": "black", "opacity": 1},
     "encoding": {"x": {"field": "px", "type": "quantitative"}, "y": {"field": "py", "type": "quantitative"}}},
    {"data": {"name": "DL"},
     "transform": [{"calculate": "datum.lx - (length(datum.g) * 4.15 + 6) / 52", "as": "bx1"}, {"calculate": "datum.lx + (length(datum.g) * 4.15 + 6) / 52", "as": "bx2"}, {"calculate": "datum.ly - 0.72", "as": "by1"}, {"calculate": "datum.ly + 0.72", "as": "by2"}],
     "mark": {"type": "rect", "fill": "white", "strokeWidth": 1, "cornerRadius": 2},
     "encoding": {"x": {"field": "bx1", "type": "quantitative"}, "x2": {"field": "bx2"}, "y": {"field": "by1", "type": "quantitative"}, "y2": {"field": "by2"},
      "stroke": {"condition": {"test": "datum.s == 'r'", "value": "#D0605E"}, "value": "#555555"}}},
    {"data": {"name": "DL"}, "mark": {"type": "text", "fontSize": 8.5, "color": "#333333"},
     "encoding": {"x": {"field": "lx", "type": "quantitative"}, "y": {"field": "ly", "type": "quantitative"}, "text": {"field": "g"}}}
   ]},
  {"width": 95, "height": 1, "title": {"text": "E", "offset": -9, "dx": 43}, "data": {"name": "sp"}, "mark": {"type": "point", "opacity": 0}, "encoding": {}},
  {"width": 58, "height": 170,
   "title": {"text": "cye-1", "anchor": "middle", "frame": "group", "fontStyle": "italic", "fontSize": 11, "offset": -12},
   "encoding": {"x": {"field": "c", "type": "nominal", "sort": ["W", "S"], "scale": {"domain": ["W", "S"], "paddingInner": 0, "paddingOuter": 0.1},
     "axis": {"title": null, "labelAngle": -45, "labelFontSize": 10.5, "labelExpr": "datum.value == 'W' ? 'Wild type' : 'swsn-1::gfpᴸᵒˣ + Prot. Deg.'", "domainColor": "black", "domainWidth": 2, "tickColor": "black", "tickWidth": 2, "tickSize": 5, "labelPadding": 2}}},
   "layer": [
    {"data": {"name": "E"},
     "transform": [{"filter": "datum.p == 'cye-1'"}, {"window": [{"op": "row_number", "as": "r"}, {"op": "count", "as": "n"}], "groupby": ["c", "v"], "frame": [null, null]}, {"calculate": "datum.r - (datum.n + 1) / 2", "as": "o"}],
     "mark": {"type": "square", "size": 5, "filled": true, "opacity": 1},
     "encoding": {"y": {"field": "v", "type": "quantitative", "title": "# of mRNA molecules per cell", "scale": {"domain": [0, 20], "nice": false, "range": [170, 29]},
       "axis": {"values": [0, 5, 10, 15, 20], "grid": false, "domainColor": "black", "domainWidth": 2, "tickColor": "black", "tickWidth": 2, "tickSize": 5, "labelFontSize": 11, "titleFontSize": 10, "titlePadding": 4}},
      "xOffset": {"field": "o", "type": "quantitative", "scale": {"domain": [-10, 10], "range": [-9.8, 36.2]}},
      "color": {"field": "c", "type": "nominal", "scale": {"domain": ["W", "S"], "range": ["black", "#2F4FB5"]}, "legend": null}}},
    {"data": {"name": "Es"}, "transform": [{"filter": "datum.p == 'cye-1'"}], "mark": {"type": "tick", "color": "black", "thickness": 2.5, "size": 20}, "encoding": {"y": {"field": "m", "type": "quantitative", "title": "# of mRNA molecules per cell"}}},
    {"data": {"name": "Es"}, "transform": [{"filter": "datum.p == 'cye-1'"}], "mark": {"type": "errorbar", "ticks": true, "size": 11, "thickness": 2.5, "color": "black"}, "encoding": {"y": {"field": "lo", "type": "quantitative", "title": "# of mRNA molecules per cell"}, "y2": {"field": "hi"}}},
    {"data": {"name": "Eg"}, "transform": [{"filter": "datum.p == 'cye-1'"}], "mark": {"type": "rule", "color": "#333333", "strokeWidth": 1.5}, "encoding": {"x": {"datum": "W"}, "x2": {"datum": "S"}, "y": {"field": "y", "type": "quantitative", "title": "# of mRNA molecules per cell"}}},
    {"data": {"name": "Eg"}, "transform": [{"filter": "datum.p == 'cye-1'"}], "mark": {"type": "text", "fontSize": 11, "baseline": "bottom", "dy": -2}, "encoding": {"x": {"datum": "S", "bandPosition": 0}, "y": {"field": "y", "type": "quantitative", "title": "# of mRNA molecules per cell"}, "text": {"field": "t"}}}
   ]},
  {"width": 25, "height": 1, "data": {"name": "sp"}, "mark": {"type": "point", "opacity": 0}, "encoding": {}},
  {"width": 64, "height": 170,
   "title": {"text": "cki-1", "anchor": "middle", "frame": "group", "fontStyle": "italic", "fontSize": 11, "offset": -12},
   "encoding": {"x": {"field": "c", "type": "nominal", "sort": ["W", "S"], "scale": {"domain": ["W", "S"], "paddingInner": 0, "paddingOuter": 0.1},
     "axis": {"title": null, "labelAngle": -45, "labelFontSize": 10.5, "labelExpr": "datum.value == 'W' ? 'Wild type' : 'swsn-1::gfpᴸᵒˣ + Prot. Deg.'", "domainColor": "black", "domainWidth": 2, "tickColor": "black", "tickWidth": 2, "tickSize": 5, "labelPadding": 2}}},
   "layer": [
    {"data": {"name": "E"},
     "transform": [{"filter": "datum.p == 'cki-1'"}, {"window": [{"op": "row_number", "as": "r"}, {"op": "count", "as": "n"}], "groupby": ["c", "v"], "frame": [null, null]}, {"calculate": "datum.r - (datum.n + 1) / 2", "as": "o"}],
     "mark": {"type": "square", "size": 5, "filled": true, "opacity": 1},
     "encoding": {"y": {"field": "v", "type": "quantitative", "title": null, "scale": {"domain": [0, 10], "nice": false, "range": [170, 29]},
       "axis": {"values": [0, 2, 4, 6, 8, 10], "grid": false, "domainColor": "black", "domainWidth": 2, "tickColor": "black", "tickWidth": 2, "tickSize": 5, "labelFontSize": 11}},
      "xOffset": {"field": "o", "type": "quantitative", "scale": {"domain": [-10, 10], "range": [-8.45, 37.55]}},
      "color": {"field": "c", "type": "nominal", "scale": {"domain": ["W", "S"], "range": ["black", "#2F4FB5"]}, "legend": null}}},
    {"data": {"name": "Es"}, "transform": [{"filter": "datum.p == 'cki-1'"}], "mark": {"type": "tick", "color": "black", "thickness": 2.5, "size": 18}, "encoding": {"y": {"field": "m", "type": "quantitative", "title": null}}},
    {"data": {"name": "Es"}, "transform": [{"filter": "datum.p == 'cki-1'"}], "mark": {"type": "errorbar", "ticks": true, "size": 10, "thickness": 2.5, "color": "black"}, "encoding": {"y": {"field": "lo", "type": "quantitative", "title": null}, "y2": {"field": "hi"}}},
    {"data": {"name": "Eg"}, "transform": [{"filter": "datum.p == 'cki-1'"}], "mark": {"type": "rule", "color": "#333333", "strokeWidth": 1.5}, "encoding": {"x": {"datum": "W"}, "x2": {"datum": "S"}, "y": {"field": "y", "type": "quantitative", "title": null}}},
    {"data": {"name": "Eg"}, "transform": [{"filter": "datum.p == 'cki-1'"}], "mark": {"type": "text", "fontSize": 11, "baseline": "bottom", "dy": -2}, "encoding": {"x": {"datum": "S", "bandPosition": 0}, "y": {"field": "y", "type": "quantitative", "title": null}, "text": {"field": "t"}}}
   ]},
  {"width": 16, "height": 1, "data": {"name": "sp"}, "mark": {"type": "point", "opacity": 0}, "encoding": {}},
  {"width": 63, "height": 170,
   "title": {"text": "cdk-4", "anchor": "middle", "frame": "group", "fontStyle": "italic", "fontSize": 11, "offset": -12},
   "encoding": {"x": {"field": "c", "type": "nominal", "sort": ["W", "S"], "scale": {"domain": ["W", "S"], "paddingInner": 0, "paddingOuter": 0.1},
     "axis": {"title": null, "labelAngle": -45, "labelFontSize": 10.5, "labelExpr": "datum.value == 'W' ? 'Wild type' : 'swsn-1::gfpᴸᵒˣ + Prot. Deg.'", "domainColor": "black", "domainWidth": 2, "tickColor": "black", "tickWidth": 2, "tickSize": 5, "labelPadding": 2}}},
   "layer": [
    {"data": {"name": "E"},
     "transform": [{"filter": "datum.p == 'cdk-4'"}, {"window": [{"op": "row_number", "as": "r"}, {"op": "count", "as": "n"}], "groupby": ["c", "v"], "frame": [null, null]}, {"calculate": "datum.r - (datum.n + 1) / 2", "as": "o"}],
     "mark": {"type": "square", "size": 5, "filled": true, "opacity": 1},
     "encoding": {"y": {"field": "v", "type": "quantitative", "title": null, "scale": {"domain": [0, 10], "nice": false, "range": [170, 29]},
       "axis": {"values": [0, 2, 4, 6, 8, 10], "grid": false, "domainColor": "black", "domainWidth": 2, "tickColor": "black", "tickWidth": 2, "tickSize": 5, "labelFontSize": 11}},
      "xOffset": {"field": "o", "type": "quantitative", "scale": {"domain": [-10, 10], "range": [-8.7, 37.3]}},
      "color": {"field": "c", "type": "nominal", "scale": {"domain": ["W", "S"], "range": ["black", "#2F4FB5"]}, "legend": null}}},
    {"data": {"name": "Es"}, "transform": [{"filter": "datum.p == 'cdk-4'"}], "mark": {"type": "tick", "color": "black", "thickness": 2.5, "size": 19}, "encoding": {"y": {"field": "m", "type": "quantitative", "title": null}}},
    {"data": {"name": "Es"}, "transform": [{"filter": "datum.p == 'cdk-4'"}], "mark": {"type": "errorbar", "ticks": true, "size": 11, "thickness": 2.5, "color": "black"}, "encoding": {"y": {"field": "lo", "type": "quantitative", "title": null}, "y2": {"field": "hi"}}},
    {"data": {"name": "Eg"}, "transform": [{"filter": "datum.p == 'cdk-4'"}], "mark": {"type": "rule", "color": "#333333", "strokeWidth": 1.5}, "encoding": {"x": {"datum": "W"}, "x2": {"datum": "S"}, "y": {"field": "y", "type": "quantitative", "title": null}}},
    {"data": {"name": "Eg"}, "transform": [{"filter": "datum.p == 'cdk-4'"}], "mark": {"type": "text", "fontSize": 11, "baseline": "bottom", "dy": -2}, "encoding": {"x": {"datum": "S", "bandPosition": 0}, "y": {"field": "y", "type": "quantitative", "title": null}, "text": {"field": "t"}}}
   ]},
  {"width": 15, "height": 1, "data": {"name": "sp"}, "mark": {"type": "point", "opacity": 0}, "encoding": {}},
  {"width": 75, "height": 170,
   "title": {"text": "cyd-1", "anchor": "middle", "frame": "group", "fontStyle": "italic", "fontSize": 11, "offset": -12},
   "encoding": {"x": {"field": "c", "type": "nominal", "sort": ["W", "S"], "scale": {"domain": ["W", "S"], "paddingInner": 0, "paddingOuter": 0.1},
     "axis": {"title": null, "labelAngle": -45, "labelFontSize": 10.5, "labelExpr": "datum.value == 'W' ? 'Wild type' : 'swsn-1::gfpᴸᵒˣ + Prot. Deg.'", "domainColor": "black", "domainWidth": 2, "tickColor": "black", "tickWidth": 2, "tickSize": 5, "labelPadding": 2}}},
   "layer": [
    {"data": {"name": "E"},
     "transform": [{"filter": "datum.p == 'cyd-1'"}, {"window": [{"op": "row_number", "as": "r"}, {"op": "count", "as": "n"}], "groupby": ["c", "v"], "frame": [null, null]}, {"calculate": "datum.r - (datum.n + 1) / 2", "as": "o"}],
     "mark": {"type": "square", "size": 5, "filled": true, "opacity": 1},
     "encoding": {"y": {"field": "v", "type": "quantitative", "title": null, "scale": {"domain": [0, 15], "nice": false, "range": [170, 29]},
       "axis": {"values": [0, 5, 10, 15], "grid": false, "domainColor": "black", "domainWidth": 2, "tickColor": "black", "tickWidth": 2, "tickSize": 5, "labelFontSize": 11}},
      "xOffset": {"field": "o", "type": "quantitative", "scale": {"domain": [-10, 10], "range": [-5.95, 40.05]}},
      "color": {"field": "c", "type": "nominal", "scale": {"domain": ["W", "S"], "range": ["black", "#2F4FB5"]}, "legend": null}}},
    {"data": {"name": "Es"}, "transform": [{"filter": "datum.p == 'cyd-1'"}], "mark": {"type": "tick", "color": "black", "thickness": 2.5, "size": 19}, "encoding": {"y": {"field": "m", "type": "quantitative", "title": null}}},
    {"data": {"name": "Es"}, "transform": [{"filter": "datum.p == 'cyd-1'"}], "mark": {"type": "errorbar", "ticks": true, "size": 11, "thickness": 2.5, "color": "black"}, "encoding": {"y": {"field": "lo", "type": "quantitative", "title": null}, "y2": {"field": "hi"}}},
    {"data": {"name": "Eg"}, "transform": [{"filter": "datum.p == 'cyd-1'"}], "mark": {"type": "rule", "color": "#333333", "strokeWidth": 1.5}, "encoding": {"x": {"datum": "W"}, "x2": {"datum": "S"}, "y": {"field": "y", "type": "quantitative", "title": null}}},
    {"data": {"name": "Eg"}, "transform": [{"filter": "datum.p == 'cyd-1'"}], "mark": {"type": "text", "fontSize": 11, "baseline": "bottom", "dy": -2}, "encoding": {"x": {"datum": "S", "bandPosition": 0}, "y": {"field": "y", "type": "quantitative", "title": null}, "text": {"field": "t"}}}
   ]}
 ]}
]
}
